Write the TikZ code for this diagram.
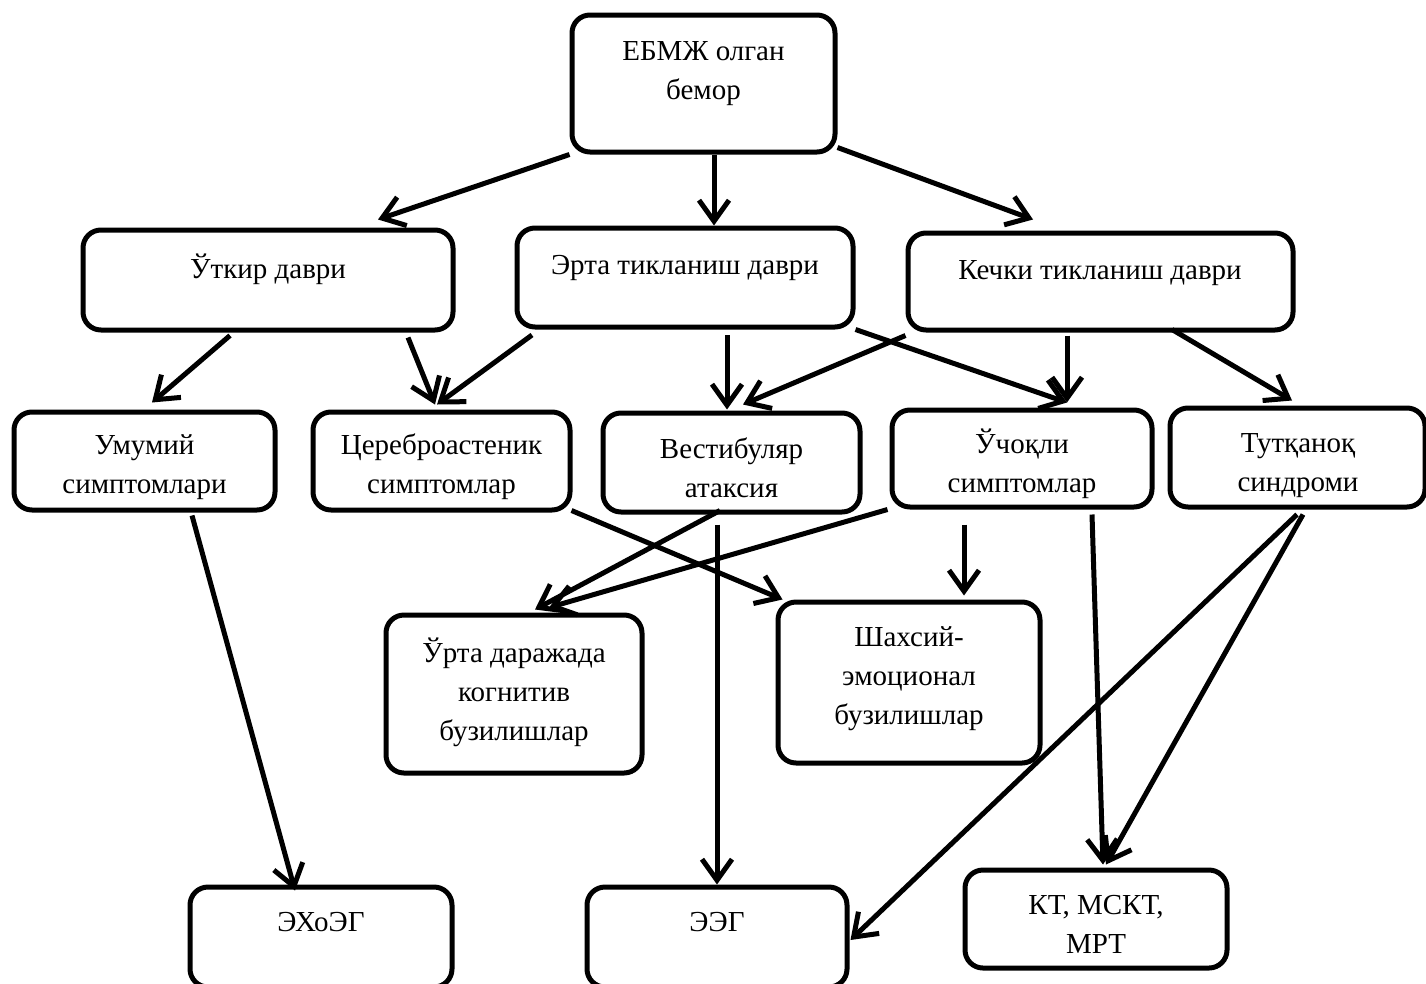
\documentclass[tikz,border=0pt]{standalone}
\usepackage{fontspec}
\setmainfont{Liberation Serif}
\usetikzlibrary{arrows.meta,calc}
\tikzset{
  box/.style={draw, line width=5pt, rounded corners=18pt, inner sep=0pt},
  txt/.style={font=\fontsize{29}{39}\selectfont, align=center, inner sep=0pt},
  arr/.style={line width=5pt, -{Straight Barb[length=21pt,width=30pt]}}
}
\begin{document}
\begin{tikzpicture}[x=1pt,y=-1pt]
\useasboundingbox (0,0) rectangle (1426,983);
\clip (0,0) rectangle (1426,983);
% boxes
\node[box, minimum width=263pt, minimum height=137pt] (top) at (703.5,83.5) {};
\node[box, minimum width=370pt, minimum height=100pt] (utk) at (268,280) {};
\node[box, minimum width=336pt, minimum height=99pt] (erta) at (685,277.5) {};
\node[box, minimum width=385pt, minimum height=97pt] (kech) at (1100.5,281.5) {};
\node[box, minimum width=261pt, minimum height=98pt] (umum) at (144.5,461) {};
\node[box, minimum width=257pt, minimum height=98pt] (cer) at (441.5,461) {};
\node[box, minimum width=257pt, minimum height=99pt] (vest) at (731.5,462.5) {};
\node[box, minimum width=260pt, minimum height=97pt] (uch) at (1022,458.5) {};
\node[box, minimum width=255pt, minimum height=99pt] (tut) at (1297.5,457.5) {};
\node[box, minimum width=256pt, minimum height=158pt] (urta) at (514,694) {};
\node[box, minimum width=262pt, minimum height=161pt] (shax) at (909,682.5) {};
\node[box, minimum width=262pt, minimum height=100pt] (exo) at (321,937) {};
\node[box, minimum width=260pt, minimum height=100pt] (eeg) at (717,937) {};
\node[box, minimum width=262pt, minimum height=98pt] (kt) at (1096,919) {};
% texts
\node[txt] (top-t) at (703.5,74) {ЕБМЖ олган\\бемор};
\node[txt] (utk-t) at (268,269) {Ўткир даври};
\node[txt] (erta-t) at (685,268) {Эрта тикланиш даври};
\node[txt] (kech-t) at (1100,273) {Кечки тикланиш даври};
\node[txt] (umum-t) at (144.5,467) {Умумий\\симптомлари};
\node[txt] (cer-t) at (441.5,467) {Цереброастеник\\симптомлар};
\node[txt] (vest-t) at (731.5,468) {Вестибуляр\\атаксия};
\node[txt] (uch-t) at (1022,464) {Ўчоқли\\симптомлар};
\node[txt] (tut-t) at (1298,466) {Тутқаноқ\\синдроми};
\node[txt] (urta-t) at (514,692) {Ўрта даражада\\когнитив\\бузилишлар};
\node[txt] (shax-t) at (909,679) {Шахсий-\\эмоционал\\бузилишлар};
\node[txt] (exo-t) at (321,922) {ЭХоЭГ};
\node[txt] (eeg-t) at (717,922) {ЭЭГ};
\node[txt] (kt-t) at (1096,924) {КТ, МСКТ,\\МРТ};
% connectors
\draw[arr] (top.south west) -- ($(utk.north)+(110,-8)$);
\draw[arr] ($(top.south)+(10.5,0)$) -- ($(erta.north)+(29,0)$);
\draw[arr] ($(top.south east)+(0,-7)$) -- ($(kech.north)+(-67.5,-11)$);
\draw[arr] ($(utk.south)+(-38,3)$) -- ($(umum.north)+(7.5,-7)$);
\draw[arr] ($(utk.south)+(140,5)$) -- ($(cer.north)+(-6.5,-5)$);
\draw[arr] ($(erta.south)+(-153,5.5)$) -- ($(cer.north)+(-4.5,-5)$);
\draw[arr] ($(erta.south)+(42,5.5)$) -- ($(vest.north)+(-4.5,-1)$);
\draw[arr] ($(kech.south west)+(0,3)$) -- ($(vest.north)+(11.5,-6)$);
\draw[arr] (erta.south east) -- ($(uch.north)+(45,-5)$);
\draw[arr] ($(kech.south)+(-33.5,3)$) -- ($(uch.north)+(45,-5)$);
\draw[arr] ($(kech.south)+(71.5,-3)$) -- ($(tut.north)+(-5.5,-5)$);
\draw[arr] ($(umum.south)+(47.5,3)$) -- ($(exo.north)+(-26,6)$);
\draw[arr] ($(vest.south)+(-11.5,-4)$) -- ($(urta.north)+(21,-3)$);
\draw[arr] ($(uch.south west)+(-2,0)$) -- ($(urta.north)+(35,-5)$);
\draw[arr] ($(cer.south east)+(-1,-2)$) -- ($(shax.north west)+(7,0)$);
\draw[arr] ($(uch.south)+(-58,15)$) -- ($(shax.north)+(55,-4)$);
\draw[arr] ($(vest.south)+(-14.5,10)$) -- (eeg.north);
\draw[arr] ($(uch.south)+(70,5)$) -- ($(kt.north)+(7,-3)$);
\draw[arr] ($(tut.south)+(5.5,5)$) -- ($(kt.north)+(10,-3)$);
\draw[arr] ($(tut.south)+(-0.5,5)$) -- ($(eeg.east)+(1,3)$);
\end{tikzpicture}
\end{document}
